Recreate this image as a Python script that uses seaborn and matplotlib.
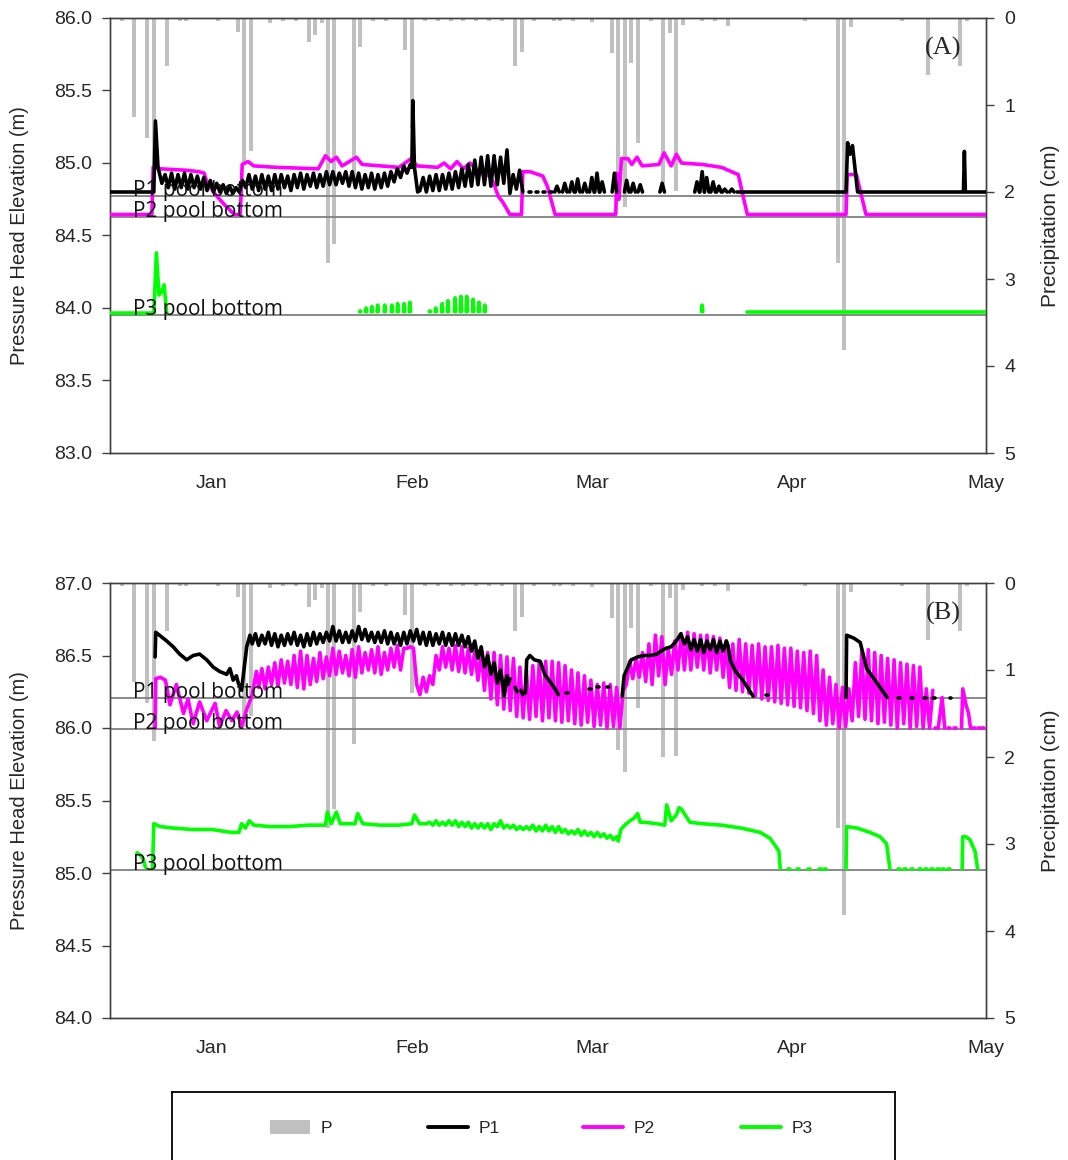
import numpy as np
import pandas as pd
import matplotlib
matplotlib.use("Agg")
import matplotlib.pyplot as plt
import matplotlib.dates as mdates
from matplotlib.patches import Patch
from matplotlib.lines import Line2D
import seaborn as sns

sns.set_style("white")
plt.rcParams["font.family"] = ["Liberation Sans", "DejaVu Sans"]

# ---------------------------------------------------------------- time base
# all times are given in days after 1 Jan 2015 (fractions = time of day)
T0 = mdates.date2num(pd.Timestamp("2015-01-01"))
XMIN = mdates.date2num(pd.Timestamp("2014-12-16 05:00"))
XMAX = mdates.date2num(pd.Timestamp("2015-05-01"))

# ---------------------------------------------------------------- precipitation (cm per day)
RAIN_DAY = [-14, -12, -10, -9, -7, -5, -4, 1, 4, 5, 6, 9, 11, 13, 15, 16, 17, 18, 19,
            22, 23, 25, 27, 30, 31, 33, 35, 37, 39, 41, 43, 45, 47, 48, 50, 53, 54, 56,
            59, 62, 63, 64, 65, 66, 68, 70, 71, 72, 73, 76, 78, 80, 92, 97, 98, 99, 107,
            111, 116, 117]
RAIN_CM = [0.03, 1.14, 1.38, 1.82, 0.55, 0.03, 0.04, 0.04, 0.16, 1.66, 1.53, 0.06, 0.03,
           0.03, 0.28, 0.20, 0.06, 2.82, 2.60, 1.85, 0.33, 0.03, 0.04, 0.37, 1.27, 0.03,
           0.03, 0.04, 0.03, 0.03, 0.04, 0.03, 0.55, 0.39, 0.03, 0.03, 0.03, 0.04, 0.05,
           0.40, 1.92, 2.17, 0.52, 1.44, 0.03, 2.00, 0.17, 1.99, 0.08, 0.03, 0.03, 0.09,
           0.03, 2.82, 3.82, 0.10, 0.03, 0.66, 0.55, 0.04]

# ---------------------------------------------------------------- pool bottoms (m)
A_POOL = {"P1": 84.77, "P2": 84.63, "P3": 83.95}
B_POOL = {"P1": 86.21, "P2": 85.99, "P3": 85.02}

# ================================================================ panel A
# P1: start, morning / afternoon readings, storm spike, second run, tail
A_P1_START_T = [-15.8, -9.0, -8.75, -8.35]
A_P1_START_V = [84.80, 84.80, 85.29, 84.97]
A_P1_AM = [84.86, 84.83, 84.82, 84.83, 84.82, 84.83, 84.82, 84.81, 84.80, 84.80,
           84.79, 84.79, 84.80, 84.83, 84.82, 84.81, 84.82, 84.81, 84.82, 84.83,
           84.81, 84.83, 84.82, 84.84, 84.83, 84.84, 84.85, 84.85, 84.86, 84.84,
           84.83, 84.82, 84.83, 84.82, 84.83, 84.84, 84.87, 84.90, 84.93]
A_P1_PM = [84.92, 84.93, 84.92, 84.93, 84.92, 84.91, 84.90, 84.88, 84.86, 84.85,
           84.84, 84.83, 84.88, 84.92, 84.91, 84.92, 84.91, 84.92, 84.92, 84.91,
           84.92, 84.93, 84.92, 84.93, 84.92, 84.94, 84.94, 84.93, 84.94, 84.94,
           84.93, 84.92, 84.93, 84.92, 84.93, 84.94, 84.96, 84.98, 84.99]
A_P1_MID_T = [31.0, 31.15, 31.4, 31.9]
A_P1_MID_V = [84.97, 85.43, 84.97, 84.80]
A_P1_AM2 = [84.81, 84.80, 84.81, 84.81, 84.82, 84.82, 84.83, 84.84, 84.84, 84.85,
            84.85, 84.84, 84.85, 84.86]
A_P1_PM2 = [84.90, 84.91, 84.92, 84.92, 84.93, 84.94, 84.96, 84.99, 85.02, 85.04,
            85.05, 85.05, 85.04, 85.09]
A_P1_END_T = [46.2, 46.7, 47.2, 47.7, 48.2]
A_P1_END_V = [84.79, 84.92, 84.82, 84.95, 84.80]
A_P1_BUMP_DAY = [53.5, 54.7, 55.8, 56.7, 57.8, 58.9, 59.7, 60.5, 62.4, 64.3, 65.3,
                 66.4, 69.8, 75.2, 76.0, 76.7, 77.7, 78.6, 79.5, 80.6]
A_P1_BUMP_PEAK = [84.84, 84.86, 84.87, 84.89, 84.86, 84.90, 84.93, 84.87, 84.93,
                  84.88, 84.86, 84.85, 84.86, 84.87, 84.94, 84.90, 84.87, 84.84,
                  84.82, 84.82]
A_P1_DOT_DAY = [49.3, 50.4, 51.5, 52.5]
A_P1_TAIL_T = [81.4, 98.3, 98.55, 98.9, 99.3, 100.1, 116.5, 116.65, 116.8, 120.0]
A_P1_TAIL_V = [84.80, 84.80, 85.14, 85.06, 85.12, 84.80, 84.80, 85.08, 84.80, 84.80]

# P2
A_P2_T = [-15.8, -9.3, -9.1, -8.0, -4.0, -2.0, -1.2, -0.8, 0.6, 2.0,
          3.5, 4.4, 4.7, 5.6, 6.5, 10.0, 16.5, 17.6, 18.5, 19.3,
          20.2, 22.4, 23.3, 29.0, 30.9, 31.8, 35.0, 36.0, 37.0, 38.0,
          39.0, 40.0, 41.6, 43.1, 43.6, 44.4, 45.1, 46.2, 48.0, 48.2,
          49.3, 51.3, 52.0, 52.5, 53.2, 62.6, 62.8, 63.1, 63.5, 64.5,
          65.1, 65.9, 66.7, 69.3, 70.1, 71.2, 72.0, 72.8, 76.0, 79.0,
          81.6, 82.2, 83.0, 98.3, 98.5, 99.9, 101.4, 120.0]
A_P2_V = [84.645, 84.645, 84.97, 84.96, 84.95, 84.94, 84.93, 84.87, 84.78, 84.71,
          84.645, 84.645, 84.99, 85.01, 84.98, 84.97, 84.96, 85.05, 85.01, 85.04,
          84.98, 85.04, 84.99, 84.97, 85.03, 84.98, 84.97, 85.00, 84.96, 85.01,
          84.96, 85.00, 84.93, 84.91, 84.87, 84.77, 84.73, 84.645, 84.645, 84.94,
          84.94, 84.91, 84.84, 84.76, 84.645, 84.645, 84.93, 84.75, 85.03, 85.03,
          84.99, 85.04, 84.98, 84.99, 85.07, 84.98, 85.06, 85.00, 84.99, 84.97,
          84.92, 84.80, 84.645, 84.645, 84.92, 84.92, 84.645, 84.645]

# P3
A_P3_START_T = [-15.8, -9.0, -8.6, -8.2, -7.8, -7.4, -7.0]
A_P3_START_V = [83.965, 83.965, 84.38, 84.09, 84.11, 84.16, 83.965]
A_P3_BUMP_DAY = [23.0, 23.9, 24.8, 25.7, 26.8, 27.9, 28.8, 29.8, 30.7, 33.8,
                 34.7, 35.7, 36.6, 37.7, 38.6, 39.5, 40.5, 41.4, 42.3, 76.0]
A_P3_BUMP_PEAK = [83.98, 84.00, 84.01, 84.02, 84.02, 84.02, 84.03, 84.03, 84.04,
                  83.98, 84.00, 84.03, 84.05, 84.07, 84.08, 84.08, 84.06, 84.04,
                  84.02, 84.02]
A_P3_TAIL_T = [82.9, 120.0]
A_P3_TAIL_V = [83.97, 83.97]

# ================================================================ panel B
# P1
B_P1_START_T = [-8.8, -8.7, -7.0, -6.0, -5.0, -3.9, -2.9, -1.9, -0.8, 0.2,
                1.2, 2.3, 2.8, 3.3, 3.8, 4.1, 4.6, 5.4, 5.9]
B_P1_START_V = [86.49, 86.66, 86.60, 86.56, 86.51, 86.47, 86.50, 86.51, 86.47, 86.42,
                86.39, 86.37, 86.41, 86.33, 86.36, 86.31, 86.26, 86.56, 86.64]
B_P1_AM = [86.58, 86.57, 86.58, 86.57, 86.56, 86.57, 86.58, 86.57, 86.56, 86.57,
           86.58, 86.59, 86.60, 86.60, 86.59, 86.59, 86.60, 86.61, 86.60, 86.59,
           86.59, 86.58, 86.58, 86.57, 86.58, 86.60, 86.58, 86.57, 86.57, 86.58,
           86.57, 86.57, 86.57, 86.56, 86.53, 86.48, 86.42, 86.37, 86.31, 86.25]
B_P1_PM = [86.65, 86.64, 86.66, 86.65, 86.64, 86.65, 86.66, 86.64, 86.65, 86.66,
           86.65, 86.66, 86.70, 86.67, 86.66, 86.67, 86.70, 86.68, 86.66, 86.66,
           86.67, 86.66, 86.65, 86.66, 86.67, 86.68, 86.66, 86.66, 86.65, 86.66,
           86.65, 86.65, 86.64, 86.63, 86.60, 86.56, 86.50, 86.45, 86.40, 86.36]
B_P1_DROP_T = [45.3]
B_P1_DROP_V = [86.22]
B_P1_DASH_T = [[45.9, 46.2], [47.0, 47.3], [47.9, 48.2]]
B_P1_DASH_V = [[86.30, 86.34], [86.28, 86.25], [86.26, 86.23]]
B_P1_FEB_T = [48.6, 48.8, 49.3, 50.0, 50.9, 51.6, 52.4, 53.2, 53.7]
B_P1_FEB_V = [86.24, 86.47, 86.50, 86.47, 86.46, 86.37, 86.32, 86.27, 86.23]
B_P1_MAR_T = [63.6, 63.9, 64.4, 65.0, 66.0, 67.0, 68.0, 69.0, 69.6, 70.4, 71.2,
              72.0, 72.7]
B_P1_MAR_V = [86.22, 86.36, 86.41, 86.47, 86.49, 86.50, 86.50, 86.51, 86.53, 86.55,
              86.56, 86.60, 86.65]
B_P1_AM3 = [86.58, 86.54, 86.53, 86.52, 86.54, 86.52, 86.53]
B_P1_PM3 = [86.63, 86.61, 86.61, 86.60, 86.61, 86.60, 86.60]
B_P1_FALL_T = [80.0, 80.4, 81.2, 82.3, 83.9]
B_P1_FALL_V = [86.57, 86.46, 86.39, 86.33, 86.22]
B_P1_APR_T = [98.3, 98.4, 99.5, 100.5, 101.5, 104.7]
B_P1_APR_V = [86.21, 86.64, 86.62, 86.59, 86.41, 86.21]
B_P1_DOT_DAY = [55.0, 58.6, 59.8, 61.4, 86.0, 106.5, 108.5, 110.5, 112.0, 114.5]
B_P1_DOT_VAL = [86.24, 86.27, 86.28, 86.28, 86.23, 86.21, 86.21, 86.21, 86.21, 86.21]

# P2
B_P2_START_T = [-8.8, -8.7, -8.0, -7.2, -6.5, -5.5, -4.4, -3.7, -2.9, -1.9,
                -0.8, 0.5, 1.2, 2.2, 3.1, 3.9, 4.6, 5.4, 6.2, 6.9]
B_P2_START_V = [86.00, 86.34, 86.35, 86.33, 86.16, 86.30, 86.10, 86.20, 86.03, 86.18,
                86.05, 86.17, 86.01, 86.12, 86.05, 86.11, 86.01, 86.13, 86.22, 86.39]
B_P2_AM = [86.28, 86.27, 86.30, 86.29, 86.31, 86.30, 86.28, 86.27, 86.30, 86.32,
           86.34, 86.36, 86.37, 86.38, 86.36, 86.35, 86.38, 86.40, 86.38, 86.37,
           86.40, 86.42, 86.40, 86.55, 86.55, 86.23, 86.25, 86.30, 86.40, 86.42,
           86.40, 86.39, 86.38, 86.37, 86.33, 86.26, 86.20, 86.16, 86.13, 86.12,
           86.08, 86.07, 86.06, 86.08, 86.05, 86.07, 86.05, 86.04, 86.05, 86.03,
           86.02, 86.04, 86.01, 86.02, 86.00, 86.01, 86.00, 86.30, 86.34, 86.35,
           86.32, 86.30, 86.36, 86.30, 86.37, 86.40, 86.40, 86.40, 86.42, 86.40,
           86.38, 86.40, 86.35, 86.28, 86.26, 86.25, 86.24, 86.22, 86.20, 86.19,
           86.18, 86.17, 86.16, 86.15, 86.14, 86.12, 86.10, 86.05, 86.02, 86.03,
           86.00, 86.01, 86.05, 86.08, 86.06, 86.05, 86.03, 86.04, 86.02, 86.00,
           86.03, 86.00, 86.01, 86.00, 86.00]
B_P2_PM = [86.41, 86.42, 86.45, 86.47, 86.46, 86.50, 86.53, 86.50, 86.48, 86.52,
           86.49, 86.55, 86.53, 86.50, 86.54, 86.56, 86.52, 86.54, 86.56, 86.52,
           86.55, 86.57, 86.55, 86.56, 86.30, 86.35, 86.36, 86.50, 86.56, 86.55,
           86.57, 86.56, 86.55, 86.53, 86.53, 86.52, 86.52, 86.50, 86.49, 86.48,
           86.42, 86.40, 86.43, 86.45, 86.46, 86.46, 86.45, 86.43, 86.40, 86.38,
           86.36, 86.33, 86.30, 86.31, 86.30, 86.28, 86.26, 86.46, 86.48, 86.52,
           86.58, 86.64, 86.63, 86.55, 86.60, 86.65, 86.66, 86.65, 86.64, 86.64,
           86.63, 86.62, 86.60, 86.58, 86.61, 86.58, 86.57, 86.58, 86.56, 86.56,
           86.57, 86.55, 86.55, 86.53, 86.52, 86.53, 86.50, 86.40, 86.35, 86.30,
           86.28, 86.27, 86.45, 86.53, 86.54, 86.52, 86.50, 86.48, 86.47, 86.45,
           86.44, 86.43, 86.42, 86.27, 86.26]
B_P2_TAIL_T = [[112.6, 113.2, 113.6], [116.2, 116.4, 116.9, 117.3, 117.6]]
B_P2_TAIL_V = [[86.00, 86.21, 86.00], [86.00, 86.27, 86.16, 86.10, 86.00]]
B_P2_DOT_DAY = [112.2, 114.3, 115.2, 118.2, 118.9, 119.6]

# P3
B_P3_PRE_T = [-11.6, -11.0, -10.6, -10.3]
B_P3_PRE_V = [85.14, 85.12, 85.09, 85.04]
B_P3_START_T = [-9.2, -9.0, -8.0, -6.0, -3.0, 0.0, 3.0, 4.2, 4.6, 5.2, 5.8, 6.5, 9.0,
                12.0, 15.0, 17.6, 17.9, 18.5, 19.3, 19.9, 22.2, 22.6, 23.4, 26.0,
                29.0, 31.0, 31.4, 32.2]
B_P3_START_V = [85.03, 85.34, 85.32, 85.31, 85.30, 85.30, 85.28, 85.28, 85.34, 85.31,
                85.36, 85.33, 85.32, 85.32, 85.33, 85.33, 85.42, 85.34, 85.42, 85.34,
                85.34, 85.41, 85.34, 85.33, 85.33, 85.34, 85.40, 85.34]
B_P3_AM = [85.34, 85.33, 85.33, 85.33, 85.33, 85.32, 85.32, 85.31, 85.31, 85.31,
           85.30, 85.32, 85.31, 85.31, 85.30, 85.30, 85.30, 85.29, 85.29, 85.29,
           85.28, 85.28, 85.27, 85.27, 85.26, 85.26, 85.25, 85.25, 85.24, 85.23]
B_P3_PM = [85.35, 85.36, 85.35, 85.36, 85.36, 85.35, 85.35, 85.34, 85.34, 85.34,
           85.34, 85.36, 85.33, 85.33, 85.32, 85.32, 85.33, 85.32, 85.33, 85.32,
           85.32, 85.30, 85.29, 85.30, 85.29, 85.28, 85.28, 85.27, 85.26, 85.25]
B_P3_MAR_T = [63.0, 63.4, 64.0, 64.8, 65.5, 66.0, 66.4, 67.0, 69.0, 70.2, 70.5, 71.2,
              72.0, 72.4, 72.8, 74.1, 76.0, 79.0, 82.0, 85.0, 86.5, 87.3, 87.9, 88.1]
B_P3_MAR_V = [85.22, 85.30, 85.33, 85.36, 85.38, 85.41, 85.35, 85.35, 85.34, 85.33,
              85.47, 85.36, 85.40, 85.45, 85.44, 85.35, 85.34, 85.33, 85.31, 85.28,
              85.24, 85.19, 85.15, 85.03]
B_P3_APR_T = [98.3, 98.4, 100.0, 102.0, 103.6, 104.6, 105.1]
B_P3_APR_V = [85.03, 85.32, 85.31, 85.28, 85.25, 85.20, 85.03]
B_P3_LATE_T = [116.3, 116.4, 116.9, 117.5, 118.3, 118.7]
B_P3_LATE_V = [85.03, 85.25, 85.25, 85.23, 85.15, 85.03]
B_P3_DOT_DAY = [89.5, 90.8, 92.6, 94.2, 95.0, 106.5, 107.5, 108.6, 109.8, 110.7,
                111.6, 112.5, 113.4, 114.3]

COLORS = {"P1": "#000000", "P2": "#ff00ff", "P3": "#00ff00"}
RAIN_COLOR = "#c0c0c0"
POOL_COLOR = "#808080"
SPINE = "#404040"
LINE_W = 2.6


# ---------------------------------------------------------------- helpers
def twice_daily(first_day, am, pm):
    """Morning and afternoon readings -> (times, values)."""
    t, v = [], []
    for i, (a, b) in enumerate(zip(am, pm)):
        t += [first_day + i + 0.25, first_day + i + 0.75]
        v += [a, b]
    return t, v


def join(*parts):
    t, v = [], []
    for pt, pv in parts:
        t += list(pt)
        v += list(pv)
    return t, v


def spikes(days, peaks, base, half):
    return [([d - half, d, d + half], [base, p, base]) for d, p in zip(days, peaks)]


def dashes(days, vals, half=0.15):
    return [([d - half, d + half], [v, v]) for d, v in zip(days, vals)]


def to_frame(pieces):
    rows = []
    for k, (t, v) in enumerate(pieces):
        for ti, vi in zip(t, v):
            rows.append((T0 + ti, vi, k))
    return pd.DataFrame(rows, columns=["time", "head", "unit"])


# ---------------------------------------------------------------- series pieces
A_SERIES = {
    "P3": [(A_P3_START_T, A_P3_START_V), (A_P3_TAIL_T, A_P3_TAIL_V)]
          + spikes(A_P3_BUMP_DAY, A_P3_BUMP_PEAK, 83.975, 0.1),
    "P2": [(A_P2_T, A_P2_V)],
    "P1": [join((A_P1_START_T, A_P1_START_V),
                twice_daily(-8, A_P1_AM, A_P1_PM),
                (A_P1_MID_T, A_P1_MID_V),
                twice_daily(32, A_P1_AM2, A_P1_PM2),
                (A_P1_END_T, A_P1_END_V)),
           (A_P1_TAIL_T, A_P1_TAIL_V)]
          + spikes(A_P1_BUMP_DAY, A_P1_BUMP_PEAK, 84.80, 0.35)
          + dashes(A_P1_DOT_DAY, [84.80] * len(A_P1_DOT_DAY)),
}

B_SERIES = {
    "P3": [(B_P3_PRE_T, B_P3_PRE_V),
           join((B_P3_START_T, B_P3_START_V),
                twice_daily(33, B_P3_AM, B_P3_PM),
                (B_P3_MAR_T, B_P3_MAR_V)),
           (B_P3_APR_T, B_P3_APR_V), (B_P3_LATE_T, B_P3_LATE_V)]
          + dashes(B_P3_DOT_DAY, [85.03] * len(B_P3_DOT_DAY)),
    "P2": [join((B_P2_START_T, B_P2_START_V), twice_daily(7, B_P2_AM, B_P2_PM))]
          + list(zip(B_P2_TAIL_T, B_P2_TAIL_V))
          + dashes(B_P2_DOT_DAY, [86.00] * len(B_P2_DOT_DAY)),
    "P1": [join((B_P1_START_T, B_P1_START_V),
                twice_daily(6, B_P1_AM, B_P1_PM),
                (B_P1_DROP_T, B_P1_DROP_V)),
           (B_P1_FEB_T, B_P1_FEB_V),
           join((B_P1_MAR_T, B_P1_MAR_V),
                twice_daily(73, B_P1_AM3, B_P1_PM3),
                (B_P1_FALL_T, B_P1_FALL_V)),
           (B_P1_APR_T, B_P1_APR_V)]
          + list(zip(B_P1_DASH_T, B_P1_DASH_V))
          + dashes(B_P1_DOT_DAY, B_P1_DOT_VAL),
}

# ---------------------------------------------------------------- figure
W, H = 1068, 1160
fig = plt.figure(figsize=(W / 100, H / 100), dpi=100)
fig.patch.set_facecolor("white")


def panel(top_px, ylim, pools, series, tag):
    rect = [110 / W, 1 - (top_px + 435) / H, 876 / W, 435 / H]
    ax = fig.add_axes(rect)
    axp = ax.twinx()

    # precipitation hangs from the top on an inverted right axis
    axp.bar(T0 + np.asarray(RAIN_DAY, dtype=float), RAIN_CM, width=0.62,
            color=RAIN_COLOR, linewidth=0, zorder=1)
    axp.set_ylim(5, 0)
    axp.set_yticks(range(6))
    axp.set_ylabel("")

    ax.set_zorder(axp.get_zorder() + 1)
    ax.patch.set_visible(False)

    for name in ["P2", "P3", "P1"]:
        df = to_frame(series[name])
        sns.lineplot(data=df, x="time", y="head", units="unit", estimator=None,
                     sort=False, color=COLORS[name], linewidth=LINE_W, ax=ax,
                     legend=False, zorder=3)

    for name, level in pools.items():
        ax.axhline(level, color=POOL_COLOR, linewidth=1.3, zorder=2)
        ax.text(T0 - 12.25, level, f"{name} pool bottom", fontsize=15,
                family=["Open Sans", "DejaVu Sans"], color="#111111",
                ha="left", va="baseline", zorder=5)

    ax.set_xlim(XMIN, XMAX)
    ax.set_ylim(*ylim)
    ax.set_yticks(np.arange(ylim[0], ylim[1] + 0.01, 0.5))
    ax.yaxis.set_major_formatter(matplotlib.ticker.FormatStrFormatter("%.1f"))
    ax.xaxis.set_major_locator(mdates.MonthLocator())
    ax.xaxis.set_major_formatter(mdates.DateFormatter("%b"))
    ax.set_xlabel("")
    ax.set_ylabel("")

    ax.tick_params(axis="y", left=True, direction="out", length=6, width=1,
                   color=SPINE, labelsize=14, pad=7)
    ax.tick_params(axis="x", bottom=False, length=0, labelsize=14, pad=16)
    axp.tick_params(axis="y", right=True, direction="out", length=6, width=1,
                    color=SPINE, labelsize=14, pad=7)
    for a in (ax, axp):
        for s in a.spines.values():
            s.set_color(SPINE)
            s.set_linewidth(1.0)
            s.set_visible(True)

    fig.text(943 / W, 1 - (top_px + 30) / H, tag, fontsize=19,
             family=["Liberation Serif", "DejaVu Serif"], ha="center", va="center")
    fig.text(20 / W, 1 - (top_px + 217.5) / H, "Pressure Head Elevation (m)",
             rotation=90, fontsize=14.5, ha="center", va="center")
    fig.text(1050 / W, 1 - (top_px + 208) / H, "Precipitation (cm)",
             rotation=90, fontsize=15, ha="center", va="center")
    return ax


panel(18, (83.0, 86.0), A_POOL, A_SERIES, "(A)")
panel(583, (84.0, 87.0), B_POOL, B_SERIES, "(B)")

# ---------------------------------------------------------------- legend box
lax = fig.add_axes([172 / W, -0.01, 723 / W, (H - 1092) / H + 0.01])
lax.set_xticks([])
lax.set_yticks([])
for s in lax.spines.values():
    s.set_color("#000000")
    s.set_linewidth(1.3)

handles = [
    Patch(facecolor=RAIN_COLOR, edgecolor="none", label="P"),
    Line2D([], [], color=COLORS["P1"], linewidth=2.8, label="P1"),
    Line2D([], [], color=COLORS["P2"], linewidth=2.8, label="P2"),
    Line2D([], [], color=COLORS["P3"], linewidth=2.8, label="P3"),
]
entry_x = [270, 428, 583, 741]
for h, x0 in zip(handles, entry_x):
    fig.legend(handles=[h], loc="center left", bbox_to_anchor=(x0 / W, 1 - 1128 / H),
               frameon=False, borderpad=0, borderaxespad=0, handlelength=2.3,
               handleheight=0.9, handletextpad=0.6,
               prop={"family": ["Liberation Sans Narrow", "Liberation Sans"],
                     "size": 12.5})

fig.savefig("out.png", dpi=100)
